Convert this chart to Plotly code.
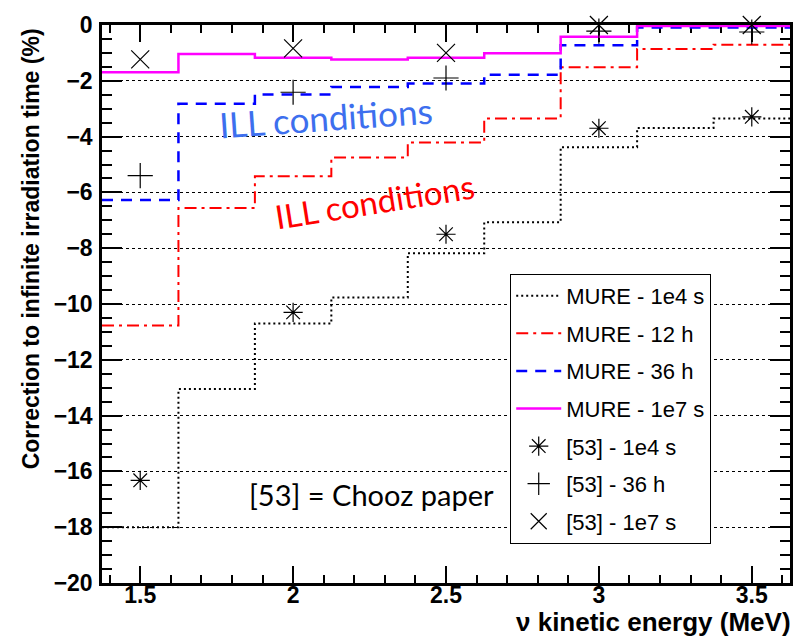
import plotly.graph_objects as go

# Neutrino energy bins (MeV), 0.25 MeV wide
bin_centers = [1.5, 1.75, 2.0, 2.25, 2.5, 2.75, 3.0, 3.25, 3.5]
bin_width = 0.25

# MURE corrections to infinite irradiation time (%)
mure_1e4s = [-18.0, -13.05, -10.7, -9.77, -8.18, -7.07, -4.38, -3.69, -3.35]
mure_12h = [-10.77, -6.56, -5.42, -4.75, -4.21, -3.35, -1.51, -0.86, -0.71]
mure_36h = [-6.27, -2.82, -2.49, -2.22, -2.10, -1.78, -0.73, -0.09, -0.09]
mure_1e7s = [-1.69, -1.04, -1.17, -1.24, -1.17, -1.01, -0.42, -0.04, -0.04]

# Chooz paper [53] values
chooz_energy = [1.5, 2.0, 2.5, 3.0, 3.5]
chooz_1e4s = [-16.32, -10.3, -7.5, -3.7, -3.29]
chooz_36h = [-5.4, -2.41, -1.9, -0.22, -0.25]
chooz_1e7s = [-1.23, -0.84, -1.0, 0.0, 0.0]

x_ticks = [1.5, 2.0, 2.5, 3.0, 3.5]
x_tick_labels = ["1.5", "2", "2.5", "3", "3.5"]
y_ticks = list(range(0, -21, -2))


def step_xy(centers, values, width):
    """Histogram outline: left bin edges plus the final right edge."""
    xs = [c - width / 2 for c in centers] + [centers[-1] + width / 2]
    ys = list(values) + [values[-1]]
    return xs, ys


fig = go.Figure()

hist_styles = [
    ("MURE - 1e4 s", mure_1e4s, "black", "2px,3px", 2),
    ("MURE - 12 h", mure_12h, "#ff0000", "12px,5px,3px,5px", 2),
    ("MURE - 36 h", mure_36h, "#0000ff", "11px,8px", 2.5),
    ("MURE - 1e7 s", mure_1e7s, "#ff00ff", "solid", 2.5),
]
for i, (name, vals, color, dash, width) in enumerate(hist_styles):
    xs, ys = step_xy(bin_centers, vals, bin_width)
    fig.add_trace(go.Scatter(
        x=xs, y=ys, mode="lines", name=name,
        line=dict(color=color, dash=dash, width=width, shape="hv"),
        legendgroup=f"g{i}",
    ))

marker_styles = [
    ("[53] - 1e4 s", chooz_1e4s, "asterisk-open", 16),
    ("[53] - 36 h", chooz_36h, "cross-thin-open", 18),
    ("[53] - 1e7 s", chooz_1e7s, "x-thin-open", 18),
]
for i, (name, vals, symbol, size) in enumerate(marker_styles):
    fig.add_trace(go.Scatter(
        x=chooz_energy, y=vals, mode="markers", name=name,
        marker=dict(symbol=symbol, size=size, color="black",
                    line=dict(color="black", width=1.2)),
        cliponaxis=False,
        legendgroup=f"m{i}",
    ))

axis_font = dict(family="Liberation Sans", size=23, color="black",
                 weight="bold")
fig.update_xaxes(
    range=[1.375, 3.625], tickvals=x_ticks, ticktext=x_tick_labels,
    ticks="inside", ticklen=17, tickwidth=1.5, tickcolor="black",
    minor=dict(dtick=0.1, tick0=0, ticks="inside", ticklen=8,
               tickwidth=1.5, tickcolor="black"),
    showline=True, linewidth=2.5, linecolor="black", mirror="ticks",
    showgrid=False, zeroline=False, tickfont=axis_font,
    ticklabelstandoff=-10, layer="below traces",
)
fig.update_yaxes(
    range=[-20, 0], tickvals=y_ticks,
    ticks="inside", ticklen=20, tickwidth=1.5, tickcolor="black",
    minor=dict(dtick=0.5, ticks="inside", ticklen=10,
               tickwidth=1.5, tickcolor="black", showgrid=False),
    showline=True, linewidth=2.5, linecolor="black", mirror="ticks",
    showgrid=True, gridcolor="black", griddash="dot", gridwidth=1.2,
    zeroline=False, tickfont=axis_font, ticklabelstandoff=2,
    layer="below traces",
)

fig.add_annotation(
    text="<b>Correction to infinite irradiation time (%)</b>",
    xref="paper", yref="paper", x=-0.103, y=0.997,
    xanchor="center", yanchor="top", textangle=-90, showarrow=False,
    font=dict(family="Liberation Sans", size=23, color="black"),
)
fig.add_annotation(
    text="<b>ν kinetic energy (MeV)</b>",
    xref="paper", yref="paper", x=(796 - 102) / 691, y=(583 - 622) / 565,
    xanchor="right", yanchor="middle", showarrow=False,
    font=dict(family="Liberation Sans", size=26, color="black"),
)
fig.add_annotation(
    text="ILL conditions", xref="paper", yref="paper",
    x=(327 - 102) / 691, y=(583 - 111) / 565, textangle=-4,
    xanchor="center", yanchor="middle",
    showarrow=False, font=dict(family="Lato", size=35, color="#3d6fee"),
)
fig.add_annotation(
    text="ILL conditions", xref="paper", yref="paper",
    x=(376 - 102) / 691, y=(583 - 196) / 565, textangle=-9,
    xanchor="center", yanchor="middle",
    showarrow=False, font=dict(family="Lato", size=33, color="#ff0000"),
)
fig.add_annotation(
    text="[53] = Chooz paper", xref="paper", yref="paper",
    x=(373 - 102) / 691, y=(583 - 493) / 565,
    xanchor="center", yanchor="middle",
    showarrow=False, font=dict(family="Lato", size=29, color="black"),
)

fig.update_layout(
    width=805, height=640,
    margin=dict(l=102, r=12, t=18, b=57),
    plot_bgcolor="white", paper_bgcolor="white",
    legend=dict(
        x=(512 - 102) / 691, y=(583 - 270) / 565,
        xanchor="left", yanchor="top",
        bgcolor="white", bordercolor="black", borderwidth=1,
        font=dict(family="Liberation Sans", size=22, color="black"),
        tracegroupgap=6, itemwidth=45,
    ),
)

fig.write_html("out.html")
